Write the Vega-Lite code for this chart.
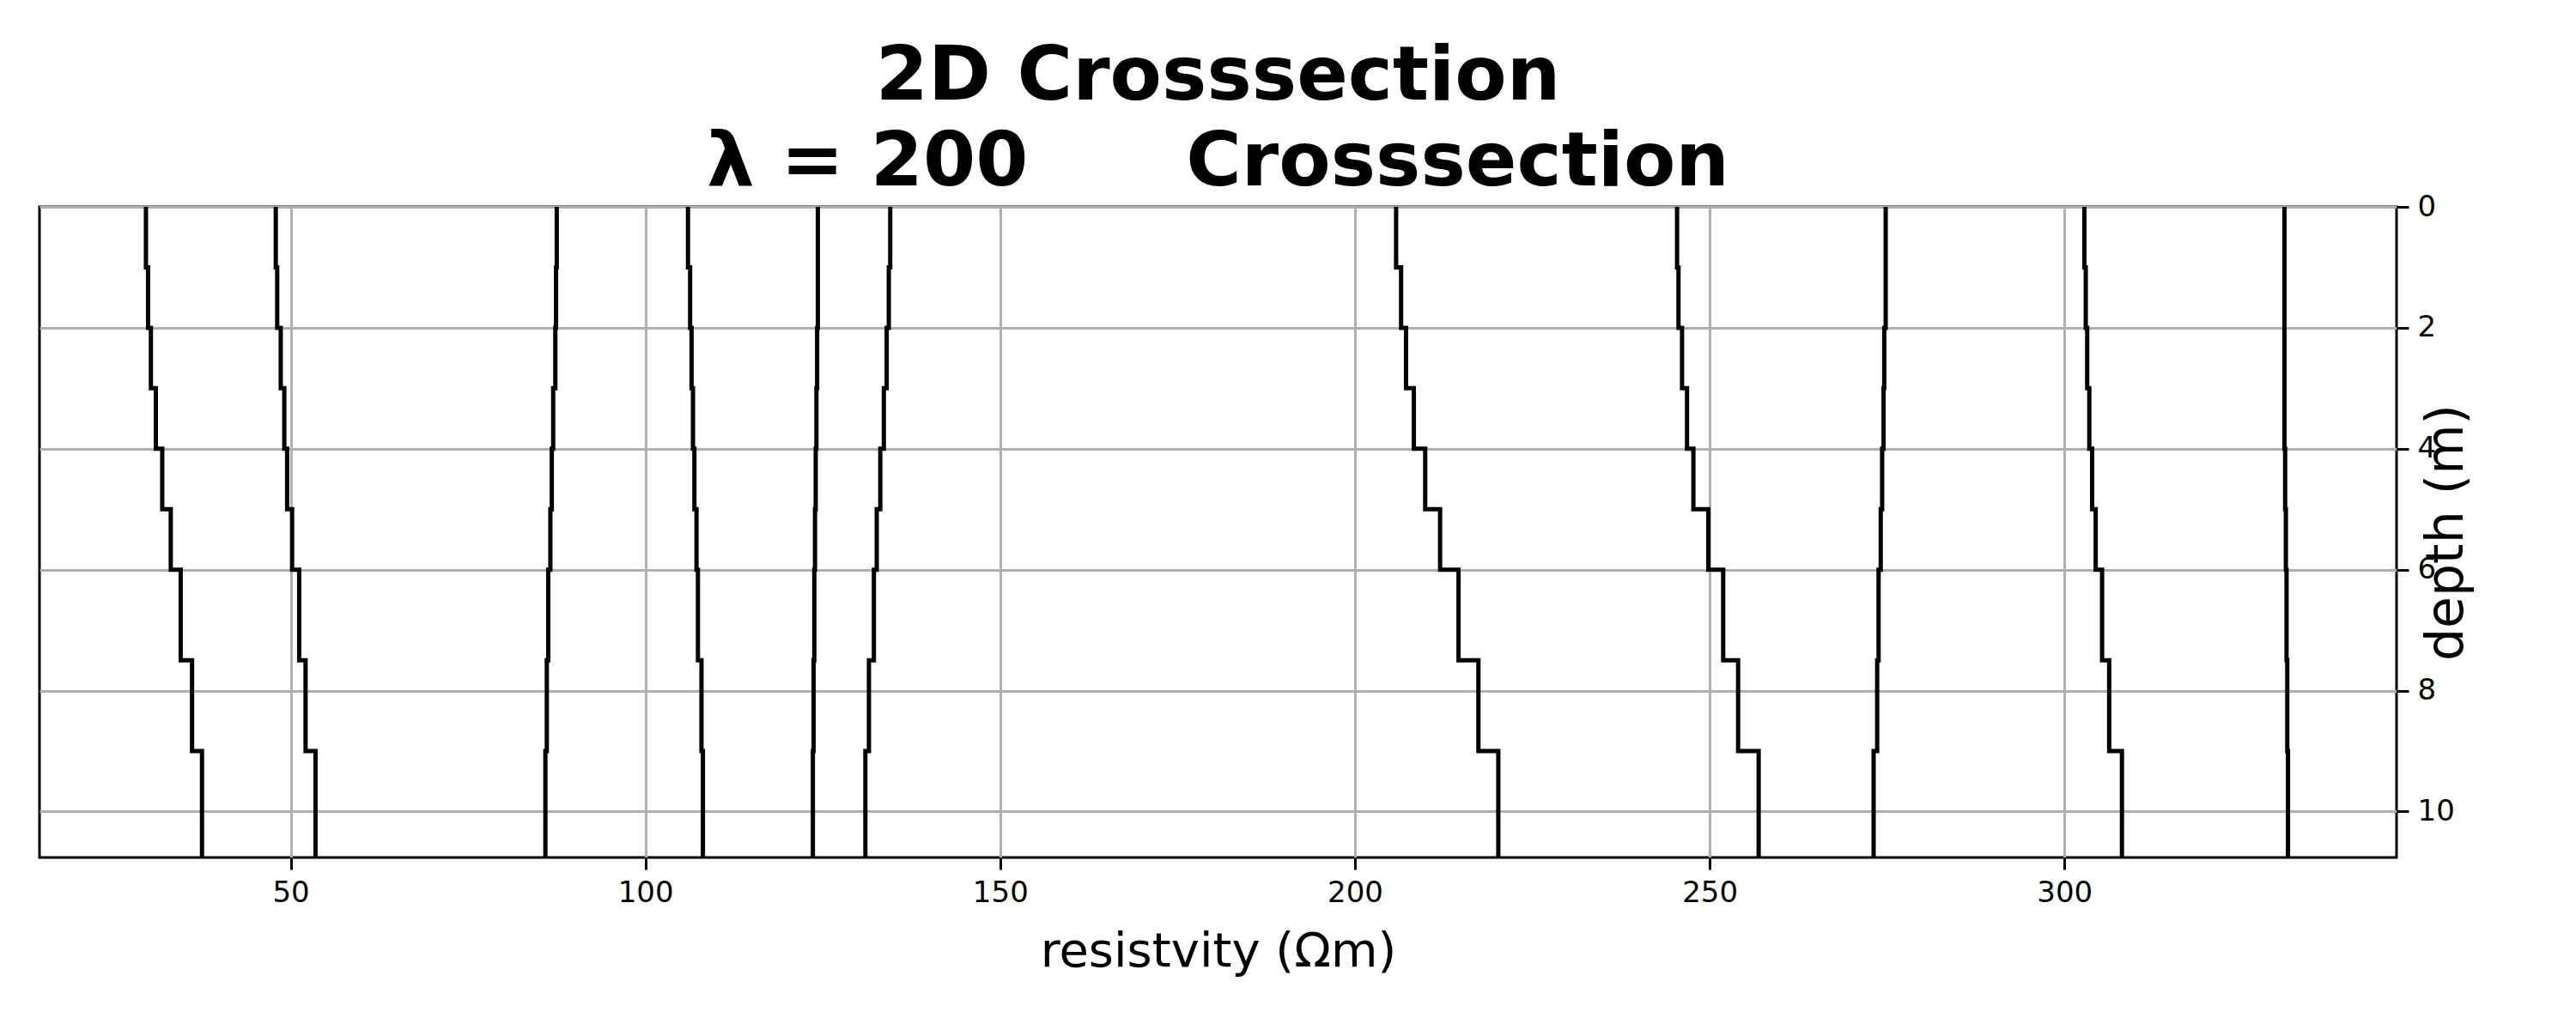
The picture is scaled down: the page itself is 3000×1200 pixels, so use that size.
{
  "$schema": "https://vega.github.io/schema/vega-lite/v6.json",
  "width": 2745,
  "height": 758,
  "autosize": "none",
  "padding": {"left": 46, "top": 241, "right": 209, "bottom": 201},
  "background": "white",
  "title": {
    "text": ["2D Crosssection", "λ = 200\u00a0\u00a0\u00a0\u00a0\u00a0\u00a0Crosssection"],
    "font": "DejaVu Sans",
    "fontSize": 88,
    "fontWeight": "bold",
    "lineHeight": 100,
    "color": "black",
    "anchor": "middle",
    "offset": -10
  },
  "config": {
    "view": {"stroke": "black", "strokeWidth": 3},
    "axis": {
      "labelFont": "DejaVu Sans",
      "titleFont": "DejaVu Sans",
      "labelFontSize": 34,
      "titleFontSize": 56,
      "titleFontWeight": "normal",
      "labelColor": "black",
      "titleColor": "black",
      "domain": false,
      "tickColor": "black",
      "tickWidth": 3,
      "tickSize": 14,
      "labelPadding": 10,
      "gridColor": "#b0b0b0",
      "gridWidth": 3,
      "gridOpacity": 1
    }
  },
  "data": {
    "values": [
      {"c":1,"depth":0,"res":29.6},{"c":1,"depth":1,"res":29.9},{"c":1,"depth":2,"res":30.3},{"c":1,"depth":3,"res":31.0},{"c":1,"depth":4,"res":31.9},{"c":1,"depth":5,"res":33.1},{"c":1,"depth":6,"res":34.5},{"c":1,"depth":7.5,"res":36.1},{"c":1,"depth":9,"res":37.5},{"c":1,"depth":10.8,"res":37.5},
      {"c":2,"depth":0,"res":47.9},{"c":2,"depth":1,"res":48.1},{"c":2,"depth":2,"res":48.6},{"c":2,"depth":3,"res":49.1},{"c":2,"depth":4,"res":49.5},{"c":2,"depth":5,"res":50.2},{"c":2,"depth":6,"res":51.2},{"c":2,"depth":7.5,"res":52.1},{"c":2,"depth":9,"res":53.5},{"c":2,"depth":10.8,"res":53.5},
      {"c":3,"depth":0,"res":87.5},{"c":3,"depth":1,"res":87.4},{"c":3,"depth":2,"res":87.3},{"c":3,"depth":3,"res":87.0},{"c":3,"depth":4,"res":86.8},{"c":3,"depth":5,"res":86.6},{"c":3,"depth":6,"res":86.3},{"c":3,"depth":7.5,"res":86.1},{"c":3,"depth":9,"res":85.9},{"c":3,"depth":10.8,"res":85.9},
      {"c":4,"depth":0,"res":106.0},{"c":4,"depth":1,"res":106.3},{"c":4,"depth":2,"res":106.5},{"c":4,"depth":3,"res":106.7},{"c":4,"depth":4,"res":106.9},{"c":4,"depth":5,"res":107.2},{"c":4,"depth":6,"res":107.4},{"c":4,"depth":7.5,"res":107.9},{"c":4,"depth":9,"res":108.1},{"c":4,"depth":10.8,"res":108.1},
      {"c":5,"depth":0,"res":124.3},{"c":5,"depth":1,"res":124.3},{"c":5,"depth":2,"res":124.2},{"c":5,"depth":3,"res":124.1},{"c":5,"depth":4,"res":124.0},{"c":5,"depth":5,"res":123.9},{"c":5,"depth":6,"res":123.8},{"c":5,"depth":7.5,"res":123.7},{"c":5,"depth":9,"res":123.6},{"c":5,"depth":10.8,"res":123.6},
      {"c":6,"depth":0,"res":134.5},{"c":6,"depth":1,"res":134.3},{"c":6,"depth":2,"res":134.0},{"c":6,"depth":3,"res":133.6},{"c":6,"depth":4,"res":133.1},{"c":6,"depth":5,"res":132.6},{"c":6,"depth":6,"res":132.2},{"c":6,"depth":7.5,"res":131.5},{"c":6,"depth":9,"res":131.0},{"c":6,"depth":10.8,"res":131.0},
      {"c":7,"depth":0,"res":205.8},{"c":7,"depth":1,"res":206.5},{"c":7,"depth":2,"res":207.2},{"c":7,"depth":3,"res":208.3},{"c":7,"depth":4,"res":209.9},{"c":7,"depth":5,"res":212.0},{"c":7,"depth":6,"res":214.6},{"c":7,"depth":7.5,"res":217.4},{"c":7,"depth":9,"res":220.2},{"c":7,"depth":10.8,"res":220.2},
      {"c":8,"depth":0,"res":245.4},{"c":8,"depth":1,"res":245.6},{"c":8,"depth":2,"res":246.1},{"c":8,"depth":3,"res":246.8},{"c":8,"depth":4,"res":247.7},{"c":8,"depth":5,"res":249.8},{"c":8,"depth":6,"res":251.9},{"c":8,"depth":7.5,"res":254.0},{"c":8,"depth":9,"res":256.9},{"c":8,"depth":10.8,"res":256.9},
      {"c":9,"depth":0,"res":274.8},{"c":9,"depth":1,"res":274.8},{"c":9,"depth":2,"res":274.6},{"c":9,"depth":3,"res":274.5},{"c":9,"depth":4,"res":274.3},{"c":9,"depth":5,"res":274.1},{"c":9,"depth":6,"res":273.8},{"c":9,"depth":7.5,"res":273.6},{"c":9,"depth":9,"res":273.1},{"c":9,"depth":10.8,"res":273.1},
      {"c":10,"depth":0,"res":302.8},{"c":10,"depth":1,"res":303.0},{"c":10,"depth":2,"res":303.2},{"c":10,"depth":3,"res":303.5},{"c":10,"depth":4,"res":303.9},{"c":10,"depth":5,"res":304.4},{"c":10,"depth":6,"res":305.3},{"c":10,"depth":7.5,"res":306.3},{"c":10,"depth":9,"res":308.1},{"c":10,"depth":10.8,"res":308.1},
      {"c":11,"depth":0,"res":331.0},{"c":11,"depth":1,"res":331.0},{"c":11,"depth":2,"res":331.0},{"c":11,"depth":3,"res":331.0},{"c":11,"depth":4,"res":331.1},{"c":11,"depth":5,"res":331.2},{"c":11,"depth":6,"res":331.3},{"c":11,"depth":7.5,"res":331.4},{"c":11,"depth":9,"res":331.5},{"c":11,"depth":10.8,"res":331.5}
    ]
  },
  "mark": {"type": "line", "interpolate": "step-before", "color": "black", "strokeWidth": 5, "clip": true},
  "encoding": {
    "x": {
      "field": "res", "type": "quantitative",
      "scale": {"domain": [14.6, 346.8], "nice": false, "zero": false},
      "axis": {"values": [50, 100, 150, 200, 250, 300], "title": "resistvity (Ωm)", "titlePadding": 24}
    },
    "y": {
      "field": "depth", "type": "quantitative",
      "scale": {"domain": [0, 10.76], "reverse": true, "nice": false},
      "axis": {"orient": "right", "values": [0, 2, 4, 6, 8, 10], "title": "depth (m)", "titleAngle": 270, "titleBaseline": "bottom", "titlePadding": 22, "titleFontSize": 60}
    },
    "detail": {"field": "c"},
    "order": {"field": "depth"}
  }
}
